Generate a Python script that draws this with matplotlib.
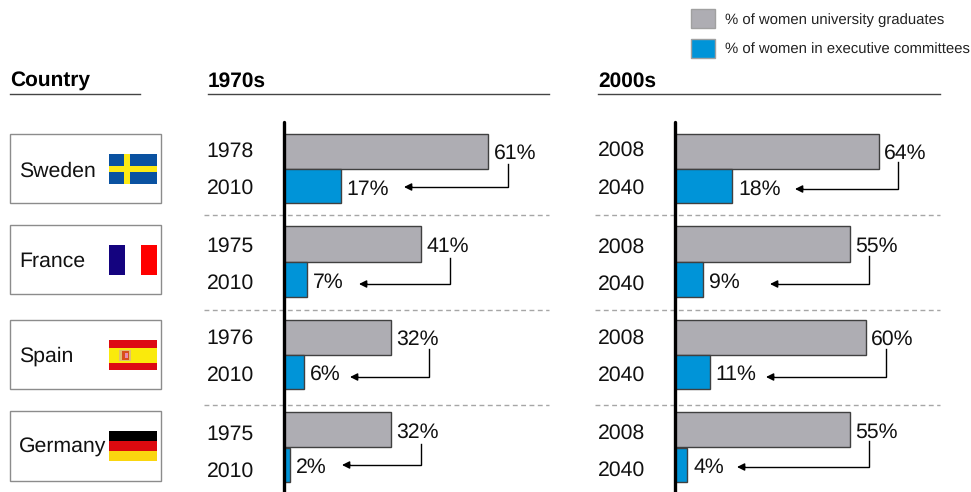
import matplotlib
matplotlib.use('Agg')
import matplotlib.pyplot as plt
from matplotlib.patches import Rectangle

plt.rcParams['font.family'] = ['Liberation Sans', 'DejaVu Sans']
plt.rcParams['text.hinting'] = 'none'

W, H = 971, 492
GREY = '#aeadb3'
BLUE = '#0094d8'
EDGE = '#404040'

countries = ['Sweden', 'France', 'Spain', 'Germany']
years_70s = [('1978', '2010'), ('1975', '2010'), ('1976', '2010'), ('1975', '2010')]
years_00s = [('2008', '2040'), ('2008', '2040'), ('2008', '2040'), ('2008', '2040')]
grads_70s = [61, 41, 32, 32]
execs_70s = [17, 7, 6, 2]
grads_00s = [64, 55, 60, 55]
execs_00s = [18, 9, 11, 4]

# layout, in pixels of the 971x492 picture
grey_rows = [(134, 169), (226, 262), (320, 355), (412, 447)]
blue_rows = [(169, 203), (262, 297), (355, 389), (448, 482)]
year_rows_70s = [(151.5, 188.5), (246.5, 283.5), (338.5, 375.5), (434.5, 471.5)]
year_rows_00s = [(150.5, 188.5), (247.5, 284.5), (338.5, 375.5), (433.5, 470.5)]
label_rows = [(153.5, 189.5), (246.5, 282.5), (339.5, 374.5), (432.5, 467.5)]
arrows_70s = [(508, 164, 187, 404), (450, 258, 284, 359), (429, 349, 377, 350), (421, 444, 465, 342)]
arrows_00s = [(898, 162, 189, 795), (869, 256, 284, 770), (886, 349, 377, 766), (869, 441, 467, 737)]
boxes = [(134, 203), (225, 294), (320, 389), (411, 481)]
name_baselines = [177, 267, 362, 453]
flag_tops = [154, 245, 340, 431]

fig = plt.figure(figsize=(W / 100, H / 100), dpi=100)
bg = fig.add_axes([0, 0, 1, 1])
bg.set_xlim(0, W)
bg.set_ylim(H, 0)
bg.axis('off')


def draw_panel(x0, scale, grads, execs):
    width = W - x0
    ax = fig.add_axes([x0 / W, 0, width / W, 1])
    ax.set_xlim(0, width / scale)
    ax.set_ylim(H, 0)
    ax.axis('off')
    ax.patch.set_alpha(0)
    for i in range(len(grads)):
        for rows, vals, colour, lab_y, pad in [(grey_rows, grads, GREY, label_rows[i][0], 3.8),
                                               (blue_rows, execs, BLUE, label_rows[i][1], 4.4)]:
            top, bottom = rows[i]
            ax.barh((top + bottom) / 2, vals[i], height=bottom - top, color=colour,
                    edgecolor=EDGE, linewidth=1)
            ax.annotate(f'{vals[i]}%', (vals[i], lab_y), xytext=(pad, 0),
                        textcoords='offset points', fontsize=15.3, va='center',
                        ha='left', color='#111111')
    ax.plot([0, 0], [122, 492], color='black', lw=2.4, clip_on=False, solid_capstyle='round')


draw_panel(283.5, 3.36, grads_70s, execs_70s)
draw_panel(674.5, 3.19, grads_00s, execs_00s)

# headers
for txt, x in [('Country', 10), ('1970s', 208), ('2000s', 598)]:
    bg.text(x, 87, txt, fontsize=15, fontweight='bold', va='baseline', color='black')
for x1, x2 in [(10, 140), (208, 549), (598, 940)]:
    bg.plot([x1, x2], [94, 94], color='#444444', lw=1)

# legend
for y, colour, txt in [(9, GREY, '% of women university graduates'),
                       (39, BLUE, '% of women in executive committees')]:
    bg.add_patch(Rectangle((691, y), 24, 19, fc=colour, ec='#a0a0a0', lw=1))
    bg.text(725, y + 15, txt, fontsize=10.7, va='baseline', color='#222222')

# row separators
for y in [214.5, 309.5, 404.5]:
    for x1, x2 in [(204, 549), (595, 940)]:
        bg.plot([x1, x2], [y, y], color='#a6a6a6', lw=1, dashes=(3.5, 2.5))

# years
for rows, yrs, x in [(year_rows_70s, years_70s, 254), (year_rows_00s, years_00s, 645)]:
    for r, y in zip(rows, yrs):
        bg.text(x, r[0], y[0], fontsize=15.3, ha='right', va='center', color='#111111')
        bg.text(x, r[1], y[1], fontsize=15.3, ha='right', va='center', color='#111111')

# leader arrows
for x, y1, y2, x_end in arrows_70s + arrows_00s:
    bg.plot([x, x, x_end + 6], [y1, y2, y2], color='black', lw=1, solid_joinstyle='miter')
    bg.annotate('', xy=(x_end, y2), xytext=(x_end + 8, y2),
                arrowprops=dict(arrowstyle='-|>', color='black', lw=1, mutation_scale=11,
                                shrinkA=0, shrinkB=0))


def flag_bands(x, top, bands, vertical=False):
    # bands are (start, size, colour) within a 48x30 flag
    for start, size, colour in bands:
        if vertical:
            bg.add_patch(Rectangle((x + start, top), size, 30, fc=colour, ec='none'))
        else:
            bg.add_patch(Rectangle((x, top + start), 48, size, fc=colour, ec='none'))


# country boxes and flags
for name, (top, bottom), base in zip(countries, boxes, name_baselines):
    bg.add_patch(Rectangle((10, top), 151, bottom - top, fc='white', ec='#8c8c8c', lw=1))
    bg.text(19, base, name, fontsize=15.3, va='baseline', color='#111111')

fx = 109
flag_bands(fx, flag_tops[0], [(0, 30, '#0a52a1'), (12, 6, '#fdea14')])
bg.add_patch(Rectangle((fx + 15, flag_tops[0]), 6, 30, fc='#fdea14', ec='none'))
flag_bands(fx, flag_tops[1], [(0, 16, '#14037f'), (16, 16, 'white'), (32, 16, '#ff0000')], vertical=True)
flag_bands(fx, flag_tops[2], [(0, 30, '#dd0a14'), (7.5, 15, '#faea0c')])
bg.add_patch(Rectangle((fx + 10, flag_tops[2] + 10), 12, 11, fc='#e0c070', ec='none'))
bg.add_patch(Rectangle((fx + 12.5, flag_tops[2] + 11), 7, 9, fc='#d8501c', ec='none'))
bg.add_patch(Rectangle((fx + 16, flag_tops[2] + 13), 3, 5, fc='#e88ab0', ec='none'))
flag_bands(fx, flag_tops[3], [(0, 10, '#000000'), (10, 10, '#dd0a0f'), (20, 10, '#fad60f')])

fig.savefig('out.png', dpi=100)
